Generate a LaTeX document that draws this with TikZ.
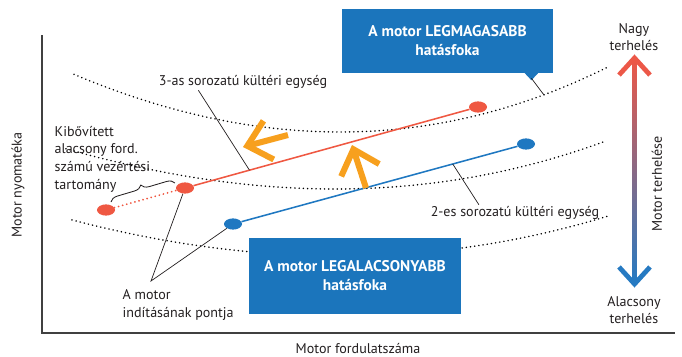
\documentclass[tikz,border=0pt]{standalone}
\usepackage{fontspec}
\setmainfont{PT Sans}
\usetikzlibrary{shapes.geometric,arrows.meta,calc,decorations.pathreplacing}

\definecolor{boxblue}{RGB}{27,117,188}
\definecolor{seriesred}{RGB}{239,88,66}
\definecolor{seriesblue}{RGB}{31,120,193}
\definecolor{shiftorange}{RGB}{247,160,30}
\definecolor{loadred}{RGB}{236,88,72}
\definecolor{loadblue}{RGB}{38,122,194}
\definecolor{labeltext}{RGB}{35,31,32}

\tikzset{
  effcurve/.style={line width=1.2pt,dash pattern=on 0.01pt off 3pt,line cap=round},
  reddot/.style={ellipse,fill=seriesred,minimum width=0.45cm,minimum height=0.28cm,inner sep=0pt},
  bluedot/.style={ellipse,fill=seriesblue,minimum width=0.45cm,minimum height=0.28cm,inner sep=0pt},
  redline/.style={seriesred,line width=1.1pt},
  blueline/.style={seriesblue,line width=1.1pt},
  leader/.style={line width=0.5pt,labeltext},
  effbox/.style={fill=boxblue,text=white,font=\fontsize{11pt}{13.5pt}\selectfont\bfseries,align=center,inner sep=0pt},
  shiftarrow/.style={shiftorange,line width=4.3pt,line cap=butt,line join=miter,-{Straight Barb[length=0.55cm,width=1cm]}},
  loadhead/.style={line width=3.4pt,line cap=butt,line join=miter}
}

\begin{document}
\begin{tikzpicture}[x=0.025cm,y=-0.025cm,every node/.style={inner sep=1pt,text=labeltext,font=\fontsize{10pt}{12.6pt}\selectfont}]
  \useasboundingbox (0,0) rectangle (682,356);
  % axes
  \draw[line width=1.1pt,black!75] (42,35) -- (42,333) -- (675,333);
  \node[rotate=90] (torque) at (18,185) {Motor nyomatéka};
  \node (speed) at (358,349) {Motor fordulatszáma};
  % efficiency curves
  \draw[effcurve] plot[domain=74:608,samples=70,smooth]
    (\x,{132-8.6*((\x-340)/100)*((\x-340)/100)-0.17*((\x-340)/100)*((\x-340)/100)*((\x-340)/100)});
  \draw[effcurve] plot[domain=66:605,samples=70,smooth]
    (\x,{189-6.05*((\x-335)/100)*((\x-335)/100)-0.18*((\x-335)/100)*((\x-335)/100)*((\x-335)/100)});
  \draw[effcurve] plot[domain=72:608,samples=70,smooth]
    (\x,{256-5.29*((\x-340)/100)*((\x-340)/100)-0.10*((\x-340)/100)*((\x-340)/100)*((\x-340)/100)});
  % operating lines
  \node[reddot] (r1) at (106,210) {};
  \node[reddot] (r2) at (185,188) {};
  \node[reddot] (r3) at (478,107) {};
  \node[bluedot] (b1) at (233,224) {};
  \node[bluedot] (b2) at (526,144) {};
  \draw[redline,dash pattern=on 0.01pt off 3pt,line cap=round,line width=1.4pt] (r1) -- (r2);
  \draw[redline] (r2) -- (r3);
  \draw[blueline] (b1) -- (b2);
  % orange shift arrows
  \draw[shiftarrow] (288,135) -- (243,147);
  \draw[shiftarrow] (366,188) -- (352,145);
  % labels of the series
  \node (ser3) at (243,82) {3-as sorozatú kültéri egység};
  \coordinate (r23) at ($(r2)!0.22!(r3)$);
  \draw[leader] ($(ser3.south west)!0.24!(ser3.south east)$) -- (r23);
  \node (ser2) at (515,213) {2-es sorozatú kültéri egység};
  \coordinate (b12) at ($(b1)!0.75!(b2)$);
  \draw[leader] ($(ser2.north west)!0.29!(ser2.north east)$) -- (b12);
  % extended range
  \node[align=left,anchor=west] (extlab) at (53,159) {Kibővített\\alacsony ford.\\számú vezértési\\tartomány};
  \draw[leader,line width=0.6pt,decorate,decoration={brace,amplitude=5.5pt}] (111,202) -- (175,183);
  % start point
  \node[align=left,anchor=west] (startlab) at (121,305) {A motor\\indításának pontja};
  \coordinate (startpt) at (151,281);
  \draw[leader] (r2) -- (startpt) -- (b1);
  % efficiency boxes
  \node[effbox,minimum width=5.28cm,minimum height=1.6cm] (topbox) at (447.5,41) {A motor LEGMAGASABB\\hatásfoka};
  \fill[boxblue] ($(topbox.south east)+(-29,-0.5)$) -- ($(topbox.south east)+(-15,-0.5)$) -- ($(topbox.south east)+(-22,7)$) -- cycle;
  \coordinate (topcurve) at (544,95);
  \draw[leader] ($(topbox.south east)+(-22,5)$) -- (topcurve);
  \node[effbox,minimum width=5.3cm,minimum height=1.9cm] (lowbox) at (355,276) {A motor LEGALACSONYABB\\hatásfoka};
  % load arrow
  \node[align=center] (highload) at (634,37) {Nagy\\terhelés};
  \node[align=center] (lowload) at (634,310) {Alacsony\\terhelés};
  \shade[top color=loadred,bottom color=loadblue] (632.2,60) rectangle (636.8,282);
  \draw[loadhead,loadred] (619,75) -- (634.5,58) -- (650,75);
  \draw[loadhead,loadblue] (619,267) -- (634.5,284) -- (650,267);
  \node[rotate=90] (loadlab) at (657,184) {Motor terhelése};
\end{tikzpicture}
\end{document}
